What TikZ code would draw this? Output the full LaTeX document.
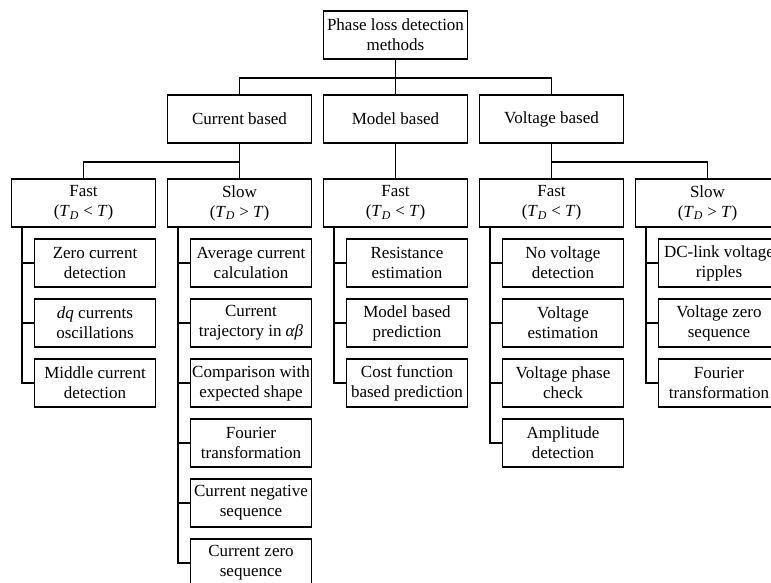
\documentclass[tikz,border=0pt]{standalone}
\usepackage{fontspec}
\setmainfont{Liberation Serif}
\usepackage{tikz}
\tikzset{
  box/.style={draw, line width=1.6pt, minimum width=144pt, minimum height=48pt,
    align=center, inner sep=1pt, font=\fontsize{17}{20}\selectfont},
  item/.style={box, minimum width=121pt},
  link/.style={line width=1.6pt}
}
\newcommand{\tdlt}{(\textit{T}\textsubscript{\textit{D}} < \textit{T})}
\newcommand{\tdgt}{(\textit{T}\textsubscript{\textit{D}} > \textit{T})}
\newcommand{\leaf}[5]{%
  
  \node[item] (#2) at (#3+11.5,#4) {#5};
  \draw[link] ([xshift=11pt]#1.south west) |- (#2.west);
}

\begin{document}
\begin{tikzpicture}[x=1pt,y=-1pt]
    \clip (0,0) rectangle (771,583);
    \node[box] (root) at (395.5,35) {Phase loss detection\\methods};
    \node[box] (cur) at (239.5,119) {Current based};
    \node[box] (mod) at (395.5,119) {Model based};
    \node[box] (vol) at (551.5,119) {Voltage based};
    \draw[link] (root.south) -- ++(0,18) -| (cur.north);
    \draw[link] (root.south) -- ++(0,18) -| (vol.north);
    \draw[link] (root) -- (mod);
    \node[box] (cf) at (83.5,203) {Fast\\\tdlt};
    \node[box] (cs) at (239.5,203) {Slow\\\tdgt};
    \node[box] (mf) at (395.5,203) {Fast\\\tdlt};
    \node[box] (vf) at (551.5,203) {Fast\\\tdlt};
    \node[box] (vs) at (707.5,203) {Slow\\\tdgt};
    \draw[link] (cur.south) -- ++(0,18) -| (cf.north);
    \draw[link] (cur) -- (cs);
    \draw[link] (mod) -- (mf);
    \draw[link] (vol) -- (vf);
    \draw[link] (vol.south) -- ++(0,18) -| (vs.north);
    \leaf{cf}{cf1}{83.5}{263}{Zero current\\detection}
    \leaf{cf}{cf2}{83.5}{323}{\textit{dq} currents\\oscillations}
    \leaf{cf}{cf3}{83.5}{383}{Middle current\\detection}
    \leaf{cs}{cs1}{239.5}{263}{Average current\\calculation}
    \leaf{cs}{cs2}{239.5}{323}{Current\\trajectory in \textit{αβ}}
    \leaf{cs}{cs3}{239.5}{383}{Comparison with\\expected shape}
    \leaf{cs}{cs4}{239.5}{443}{Fourier\\transformation}
    \leaf{cs}{cs5}{239.5}{503}{Current negative\\sequence}
    \leaf{cs}{cs6}{239.5}{563}{Current zero\\sequence}
    \leaf{mf}{mf1}{395.5}{263}{Resistance\\estimation}
    \leaf{mf}{mf2}{395.5}{323}{Model based\\prediction}
    \leaf{mf}{mf3}{395.5}{383}{Cost function\\based prediction}
    \leaf{vf}{vf1}{551.5}{263}{No voltage\\detection}
    \leaf{vf}{vf2}{551.5}{323}{Voltage\\estimation}
    \leaf{vf}{vf3}{551.5}{383}{Voltage phase\\check}
    \leaf{vf}{vf4}{551.5}{443}{Amplitude\\detection}
    \leaf{vs}{vs1}{707.5}{263}{DC-link voltage\\ripples}
    \leaf{vs}{vs2}{707.5}{323}{Voltage zero\\sequence}
    \leaf{vs}{vs3}{707.5}{383}{Fourier\\transformation}
  \end{tikzpicture}
\end{document}
